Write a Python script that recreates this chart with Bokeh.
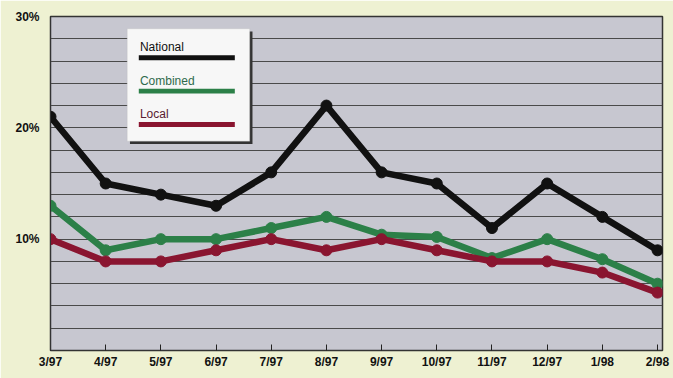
from bokeh.plotting import figure
from bokeh.models import FixedTicker, BoxAnnotation, Label, ColumnDataSource
from bokeh.embed import file_html
from bokeh.resources import INLINE

months = ["3/97", "4/97", "5/97", "6/97", "7/97", "8/97", "9/97", "10/97", "11/97", "12/97", "1/98", "2/98"]
national = [21, 15, 14, 13, 16, 22, 16, 15, 11, 15, 12, 9]
combined = [13, 9, 10, 10, 11, 12, 10.4, 10.2, 8.3, 10, 8.2, 6]
local = [10, 8, 8, 9, 10, 9, 10, 9, 8, 8, 7, 5.2]
y_ticks = [10, 20, 30]
series_names = ["National", "Combined", "Local"]
colors = ["#111111", "#2c8048", "#8a1530"]

xs = list(range(len(months)))

p = figure(width=673, height=378, output_backend="svg", toolbar_location=None,
           x_range=(0, 11.09), y_range=(0, 30),
           min_border_left=50, min_border_right=11, min_border_top=16, min_border_bottom=28)
p.background_fill_color = "#c7c7d0"
p.border_fill_color = "#eef1d2"
p.outline_line_color = "#333333"
p.outline_line_width = 1.5

p.xgrid.visible = False
p.ygrid.ticker = FixedTicker(ticks=list(range(2, 30, 2)))
p.ygrid.grid_line_color = "#4a4a4a"
p.ygrid.grid_line_width = 1

p.yaxis.ticker = FixedTicker(ticks=y_ticks)
p.yaxis.major_label_overrides = {t: f"{t}%" for t in y_ticks}
p.yaxis.major_tick_line_color = None
p.yaxis.minor_tick_line_color = None
p.yaxis.axis_line_color = "#333333"
p.yaxis.major_label_text_font = "Liberation Sans"
p.yaxis.major_label_text_font_style = "bold"
p.yaxis.major_label_text_font_size = "12px"
p.yaxis.major_label_text_color = "#111111"
p.yaxis.major_label_standoff = 5

p.xaxis.ticker = FixedTicker(ticks=xs)
p.xaxis.major_label_overrides = {i: m for i, m in enumerate(months)}
p.xaxis.major_tick_in = 6
p.xaxis.major_tick_out = 0
p.xaxis.major_tick_line_color = "#222222"
p.xaxis.minor_tick_line_color = None
p.xaxis.axis_line_color = "#333333"
p.xaxis.major_label_text_font = "Liberation Sans"
p.xaxis.major_label_text_font_style = "bold"
p.xaxis.major_label_text_font_size = "12px"
p.xaxis.major_label_text_color = "#111111"
p.xaxis.major_label_standoff = 4

for vals, col in zip([national, combined, local], colors):
    src = ColumnDataSource(dict(x=xs, y=vals))
    p.line("x", "y", source=src, line_color=col, line_width=6.5, line_join="round")
    p.scatter("x", "y", source=src, size=11, fill_color=col, line_color=col)

# legend box (custom, label above line)
lx0, lx1, ly0, ly1 = 1.39, 3.61, 18.8, 28.9
p.add_layout(BoxAnnotation(left=lx0 + 0.05, right=lx1 + 0.05, bottom=ly0 - 0.25, top=ly1 - 0.25,
                           fill_color="#333333", fill_alpha=1, line_alpha=0))
p.add_layout(BoxAnnotation(left=lx0, right=lx1, bottom=ly0, top=ly1,
                           fill_color="#f7f7f7", fill_alpha=1, line_color="#bbbbbb", line_width=1))
label_y = [27.3, 24.2, 21.2]
line_y = [26.3, 23.3, 20.3]
text_cols = ["#111111", "#2f6a4c", "#5a2030"]
for name, col, tcol, ty, ly in zip(series_names, colors, text_cols, label_y, line_y):
    p.add_layout(Label(x=1.62, y=ty, text=name, text_font="Liberation Sans", text_font_size="12px",
                       text_color=tcol, text_baseline="middle"))
    p.add_layout(BoxAnnotation(left=1.6, right=3.34, bottom=ly - 0.22, top=ly + 0.22,
                               fill_color=col, fill_alpha=1, line_alpha=0))

html = file_html(p, INLINE)
html = html.replace("<body>", '<body style="background:#eef1d2">', 1)
open("out.html", "w").write(html)
